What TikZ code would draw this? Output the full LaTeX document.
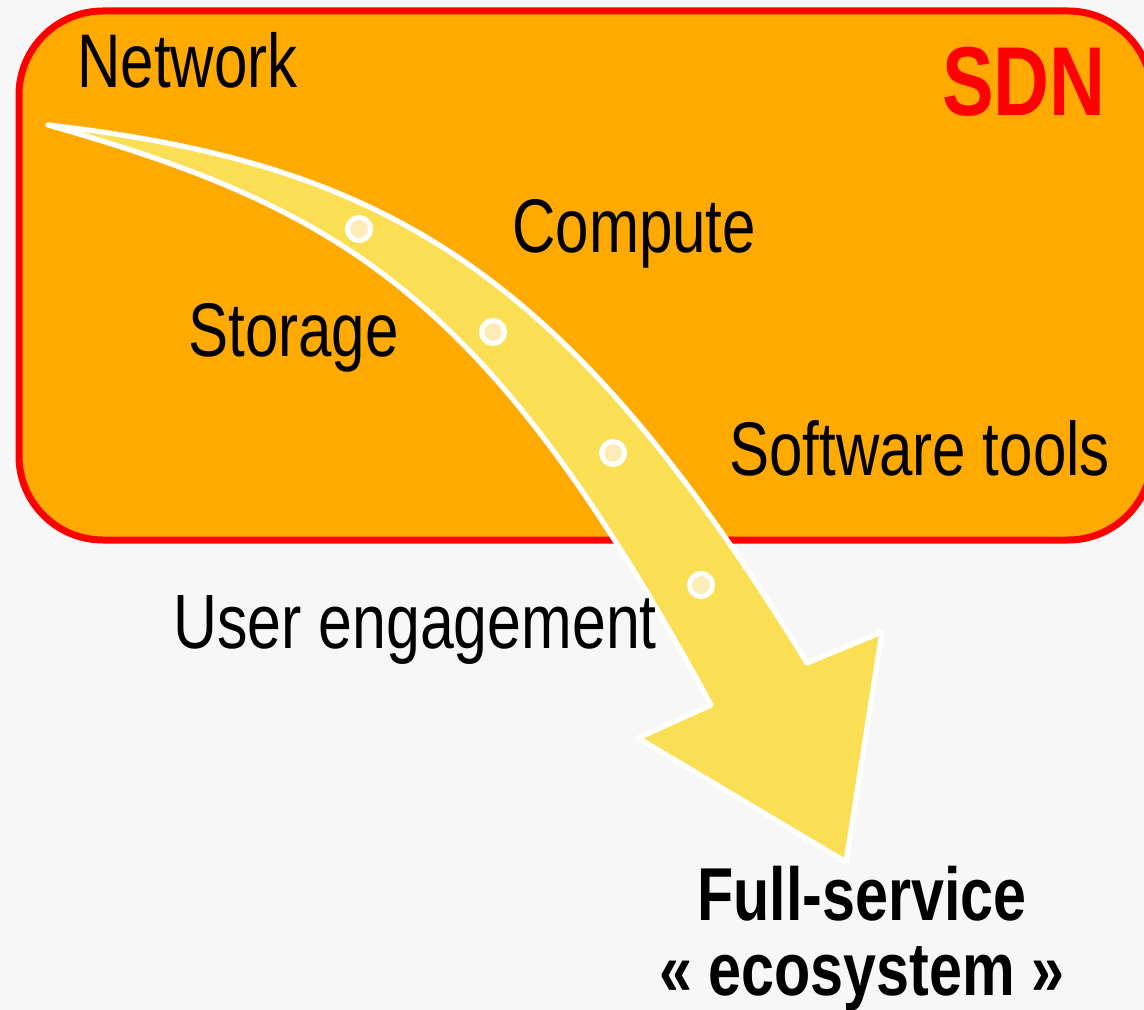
\documentclass[tikz,border=0pt]{standalone}
\usepackage{fontspec}
\setmainfont{Liberation Sans}[FakeStretch=0.79]
\usepackage{tikz}

\definecolor{bgGray}{HTML}{F7F7F7}
\definecolor{sdnOrange}{HTML}{FFAA00}
\definecolor{arrowYellow}{HTML}{FADF55}
\definecolor{dotCream}{HTML}{FDEBB8}

\tikzset{
  label/.style={anchor=base west, inner sep=0pt, font=\fontsize{38}{44}\selectfont},
  stop/.style={circle, draw=white, line width=2.5pt, fill=dotCream, minimum size=11.5pt, inner sep=0pt}
}

\begin{document}
\begin{tikzpicture}[x=0.5pt,y=-0.5pt]
  \fill[bgGray] (0,0) rectangle (1144,1010);
  \useasboundingbox (0,0) rectangle (1144,1010);

  \draw[red, line width=3.5pt, fill=sdnOrange, rounded corners=42pt] (19,11) rectangle (1152,540);

  \node[label] (net) at (77,88) {Network};
  \node[label] (comp) at (512,253) {Compute};
  \node[label] (stor) at (188,357) {Storage};
  \node[label] (soft) at (729,475) {Software tools};
  \node[anchor=base east, inner sep=0pt, text=red, font=\fontsize{49}{55}\selectfont\bfseries] (sdn) at (1106,116) {SDN};

  % curved arrow: upper edge, head, lower edge back to the tail
  \coordinate (tail) at (48,125);
  \coordinate (up) at (807,663);
  \coordinate (low) at (711,705);
  \draw[white, line width=2.6pt, line join=round, line cap=round, fill=arrowYellow]
    (tail) .. controls (388,164) and (567,272) .. (up)
    -- (882,632) -- (846,862) -- (638,738) -- (low)
    .. controls (491,300) and (348,210) .. (tail) -- cycle;

  \node[stop] (s1) at (359,229) {};
  \node[stop] (s2) at (493,332) {};
  \node[stop] (s3) at (613,453) {};
  \node[stop] (s4) at (701,585) {};

  \node[label, font=\fontsize{38.5}{44}\selectfont] (user) at (173,648) {User engagement};
  \node[align=center, anchor=base, inner sep=0pt, font=\fontsize{37.5}{37.5}\selectfont\bfseries] (eco) at (862,995) {Full-service\\« ecosystem »};
\end{tikzpicture}
\end{document}
